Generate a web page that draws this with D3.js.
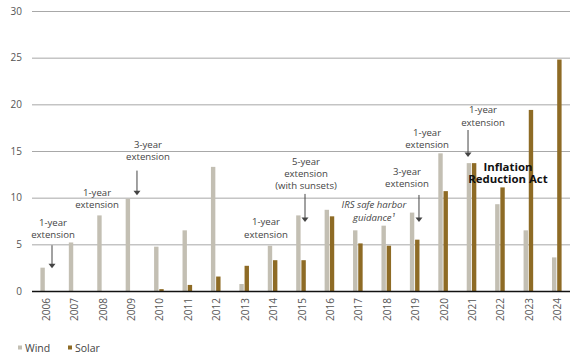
<!DOCTYPE html>
<html>
<head>
<meta charset="utf-8">
<script src="https://cdn.jsdelivr.net/npm/d3@7"></script>
<style>
  html, body { margin: 0; padding: 0; background: #fff; }
  svg { display: block; font-family: "Open Sans", "Noto Sans", sans-serif; }
</style>
</head>
<body>
<svg id="chart" width="580" height="360"></svg>
<script>
const years = ["2006","2007","2008","2009","2010","2011","2012","2013","2014","2015",
               "2016","2017","2018","2019","2020","2021","2022","2023","2024"];
const wind  = [2.5, 5.2, 8.1, 9.9, 4.75, 6.5, 13.3, 0.75, 4.85, 8.1,
               8.7, 6.5, 7.0, 8.4, 14.75, 13.7, 9.3, 6.5, 3.6];
const solar = [0, 0, 0, 0, 0.2, 0.65, 1.55, 2.7, 3.3, 3.3,
               8.0, 5.1, 4.85, 5.5, 10.7, 13.7, 11.1, 19.4, 24.8];
const yTicks = [0, 5, 10, 15, 20, 25, 30];
const seriesNames = ["Wind", "Solar"];
const colors = ["#c3bfb3", "#8e6b25"];

// annotations: anchored on a year (with pixel nudge) and a value (first line baseline)
const notes = [
  {lines: ["1-year", "extension"], x: "2006", dx: 7.8, y: 7.0, arrow: {x: "2006", dx: 6.8, from: 4.9, to: 2.45}},
  {lines: ["1-year", "extension"], x: "2008", dx: -5, y: 10.23},
  {lines: ["3-year", "extension"], x: "2009", dx: 17.5, y: 15.37, arrow: {x: "2009", dx: 6.5, from: 12.9, to: 10.25}},
  {lines: ["1-year", "extension"], x: "2014", dx: -6.6, y: 7.02},
  {lines: ["5-year", "extension", "(with sunsets)"], x: "2015", dx: 5, y: 13.55, arrow: {x: "2015", dx: 4, from: 10.4, to: 7.4}},
  {lines: ["IRS safe harbor", "guidance¹"], x: "2018", dx: -12.3, y: 8.84, italic: true},
  {lines: ["3-year", "extension"], x: "2019", dx: -7.7, y: 12.48, arrow: {x: "2019", dx: 4.3, from: 10.29, to: 7.39}},
  {lines: ["1-year", "extension"], x: "2020", dx: -16, y: 16.66},
  {lines: ["1-year", "extension"], x: "2021", dx: 11.5, y: 19.02, arrow: {x: "2021", dx: -3.5, from: 17.25, to: 14.36}},
  {lines: ["Inflation", "Reduction Act"], x: "2022", dx: 8, y: 12.9, bold: true}
];

const svg = d3.select("#chart");
const x = d3.scaleBand().domain(years).range([31, 571]).padding(0);
const y = d3.scaleLinear().domain([0, 30]).range([291, 11]);

// gridlines
svg.append("g").selectAll("line").data(yTicks.filter(d => d > 0)).join("line")
  .attr("x1", 32).attr("x2", 570)
  .attr("y1", d => y(d) + 0.5).attr("y2", d => y(d) + 0.5)
  .attr("stroke", "#a8a8a8").attr("stroke-width", 1);

// y axis labels
svg.append("g").selectAll("text").data(yTicks).join("text")
  .attr("x", 22).attr("y", d => y(d)).attr("dy", "0.35em")
  .attr("text-anchor", "end").attr("font-size", 10).attr("fill", "#555")
  .text(d => d);

// bars
const bw = 4.4;
const bars = svg.append("g");
bars.selectAll("rect.wind").data(years).join("rect").attr("class", "wind")
  .attr("x", d => x(d) + x.bandwidth() / 2 - bw - 0.4)
  .attr("y", (d, i) => y(wind[i]))
  .attr("width", bw)
  .attr("height", (d, i) => y(0) - y(wind[i]))
  .attr("fill", colors[0]);
bars.selectAll("rect.solar").data(years).join("rect").attr("class", "solar")
  .attr("x", d => x(d) + x.bandwidth() / 2 + 0.4)
  .attr("y", (d, i) => y(solar[i]))
  .attr("width", bw)
  .attr("height", (d, i) => y(0) - y(solar[i]))
  .attr("fill", colors[1]);

// baseline
svg.append("line").attr("x1", 32).attr("x2", 570)
  .attr("y1", y(0) + 0.5).attr("y2", y(0) + 0.5)
  .attr("stroke", "#111").attr("stroke-width", 1.4);

// x labels
svg.append("g").selectAll("text").data(years).join("text")
  .attr("transform", d => `translate(${x(d) + x.bandwidth() / 2 + 1},298) rotate(-90)`)
  .attr("text-anchor", "end").attr("dy", "0.35em")
  .attr("font-size", 10).attr("fill", "#555")
  .text(d => d);

// annotations
const ann = svg.append("g");
notes.forEach(n => {
  const cx = x(n.x) + x.bandwidth() / 2 + n.dx;
  const lh = n.bold ? 12.6 : 12.3;
  n.lines.forEach((l, i) => {
    ann.append("text")
      .attr("x", cx).attr("y", y(n.y) + i * lh)
      .attr("text-anchor", "middle")
      .attr("font-size", n.bold ? 11.4 : 9.6)
      .attr("font-weight", n.bold ? "bold" : "normal")
      .attr("font-style", n.italic ? "italic" : "normal")
      .attr("fill", n.bold ? "#111" : "#444")
      .text(l);
  });
  if (n.arrow) {
    const ax = x(n.arrow.x) + x.bandwidth() / 2 + n.arrow.dx;
    const y1 = y(n.arrow.from), y2 = y(n.arrow.to);
    ann.append("line").attr("x1", ax).attr("x2", ax).attr("y1", y1).attr("y2", y2 - 4)
      .attr("stroke", "#444").attr("stroke-width", 1);
    ann.append("path")
      .attr("d", `M${ax - 3.5},${y2 - 4.5} L${ax + 3.5},${y2 - 4.5} L${ax},${y2} Z`)
      .attr("fill", "#444");
  }
});

// legend
const leg = svg.append("g").attr("transform", "translate(18,348)");
seriesNames.forEach((s, i) => {
  const g = leg.append("g").attr("transform", `translate(${i * 50},0)`);
  g.append("rect").attr("x", 0).attr("y", -2.5).attr("width", 4).attr("height", 4).attr("fill", colors[i]);
  g.append("text").attr("x", 7).attr("y", 0).attr("dy", "0.35em")
    .attr("font-size", 10.5).attr("fill", "#444").text(s);
});
</script>
</body>
</html>
